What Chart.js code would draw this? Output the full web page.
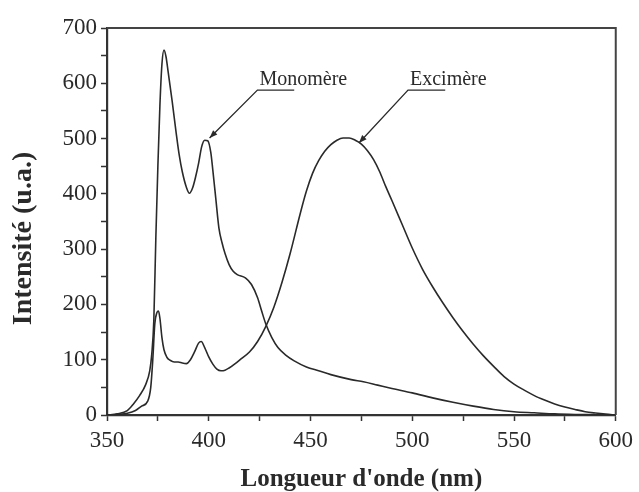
<!DOCTYPE html>
<html>
<head>
<meta charset="utf-8">
<script src="https://cdn.jsdelivr.net/npm/chart.js@4/dist/chart.umd.min.js"></script>
<style>
  html, body { margin: 0; padding: 0; background: #fff; }
  #wrap { width: 639px; height: 492px; position: relative; }
</style>
</head>
<body>
<div id="wrap"><canvas id="c"></canvas></div>
<script>
// ---- data ----
const wavelengthA = [350,355,360,363,366,369,371,372,373,374,375,376,377,378,379,380,382,384,385.5,387,389,390.5,392,393.5,395,396.5,398,399.5,401,402,403.5,405,406.5,408,410,412,414,418,421,424,426,428,431,434,438,442,448,454,460,470,476,483,490,500,510,520,530,540,550,560,570,580,590,600];
const intensityA  = [0,2,8,20,35,55,80,110,170,320,450,560,635,660,648,622,568,510,470,440,412,401,410,430,455,485,497,496,475,443,390,338,312,292,272,260,254,248,236,212,188,165,140,122,108,98,87,80,73,64,60,54,48,40,31,23,16,10,6,4,2,1,0.5,0];

const wavelengthB = [350,355,360,364,367,370,371.5,372.5,373.5,374.5,375.3,376,377,378,379.5,381,383,385,387,389,391,393,395,396.3,398,400,402,404,406,408,410,413,416,420,424,428,432,436,440,445,448,451,454,457,460,463,466,469,472,475,478,481,484,487,490,495,500,505,510,515,520,525,530,535,540,545,550,555,560,565,570,575,580,585,590,595,600];
const intensityB  = [0,1,3,8,16,25,50,100,165,185,188,175,140,118,104,99,96,96,94,93,100,114,130,133,122,105,92,83,80,81,85,93,102,114,133,160,195,240,292,365,405,437,460,477,489,497,501,501,497,490,478,462,440,413,388,345,302,264,232,203,176,151,128,107,88,70,56,45,35,27,20,14.5,10,6,3.5,1.5,0];

const xTickValues = [350,400,450,500,550,600];
const yTickValues = [0,100,200,300,400,500,600,700];

const annotationLabels = ['Monomère','Excimère'];
const annotationTextAt = [[424.9,596.7],[498.9,596.7]];
const annotationUnderlineEnd = [442,516.2];
const annotationArrowTip = [[400.4,501],[473.8,492]];

// ---- chart ----
const ink = '#2a2a2a';
const serif = "'Liberation Serif', 'Times New Roman', serif";

const pairs = (xs, ys) => xs.map((x, i) => ({x, y: ys[i]}));

const decorPlugin = {
  id: 'decor',
  afterDraw(chart) {
    const {ctx, chartArea: a, scales: {x, y}} = chart;
    ctx.save();
    // frame top and right
    ctx.strokeStyle = '#444';
    ctx.lineWidth = 2;
    ctx.beginPath();
    ctx.moveTo(a.left, a.top);
    ctx.lineTo(a.right, a.top);
    ctx.lineTo(a.right, a.bottom);
    ctx.stroke();

    // y title
    ctx.fillStyle = ink;
    ctx.font = "bold 28px " + serif;
    ctx.textAlign = 'center';
    ctx.textBaseline = 'middle';
    ctx.translate(24, (a.top + a.bottom) / 2 + 17);
    ctx.rotate(-Math.PI / 2);
    ctx.fillText('Intensité (u.a.)', 0, 0);
    ctx.restore();

    // annotations
    ctx.save();
    ctx.fillStyle = ink;
    ctx.strokeStyle = ink;
    ctx.font = "20px " + serif;
    ctx.textAlign = 'left';
    ctx.textBaseline = 'alphabetic';
    annotationLabels.forEach((label, i) => {
      const tx = x.getPixelForValue(annotationTextAt[i][0]);
      const ty = y.getPixelForValue(annotationTextAt[i][1]);
      ctx.fillText(label, tx, ty);
      const uy = ty + 5;
      const ux2 = x.getPixelForValue(annotationUnderlineEnd[i]);
      const px = x.getPixelForValue(annotationArrowTip[i][0]);
      const py = y.getPixelForValue(annotationArrowTip[i][1]);
      ctx.lineWidth = 1.3;
      ctx.beginPath();
      ctx.moveTo(ux2, uy);
      ctx.lineTo(tx - 2, uy);
      ctx.lineTo(px, py);
      ctx.stroke();
      // arrow head
      const ang = Math.atan2(py - uy, px - (tx - 2));
      const L = 8, W = 3;
      ctx.beginPath();
      ctx.moveTo(px, py);
      ctx.lineTo(px - L * Math.cos(ang) + W * Math.sin(ang), py - L * Math.sin(ang) - W * Math.cos(ang));
      ctx.lineTo(px - L * Math.cos(ang) - W * Math.sin(ang), py - L * Math.sin(ang) + W * Math.cos(ang));
      ctx.closePath();
      ctx.fill();
    });
    ctx.restore();
  }
};

new Chart(document.getElementById('c'), {
  type: 'line',
  data: {
    datasets: [
      { label: 'A', data: pairs(wavelengthA, intensityA), borderColor: ink, borderWidth: 1.6, pointRadius: 0, cubicInterpolationMode: 'monotone', fill: false },
      { label: 'B', data: pairs(wavelengthB, intensityB), borderColor: ink, borderWidth: 1.6, pointRadius: 0, cubicInterpolationMode: 'monotone', fill: false }
    ]
  },
  options: {
    responsive: true,
    maintainAspectRatio: false,
    animation: false,
    layout: { padding: { top: 28, right: 21, bottom: 0, left: 0 } },
    plugins: { legend: { display: false }, tooltip: { enabled: false } },
    scales: {
      x: {
        type: 'linear',
        min: 350, max: 600,
        afterFit: s => { s.height = 77; },
        ticks: {
          stepSize: 25, autoSkip: false, maxRotation: 0, padding: 6, maxTicksLimit: 20,
          color: ink, font: { family: serif, size: 23 },
          callback: v => xTickValues.includes(v) ? String(v) : ''
        },
        grid: { drawOnChartArea: false, drawTicks: true, tickLength: 6, tickColor: '#333', tickWidth: 1.5 },
        border: { display: true, color: '#333', width: 2.2 },
        title: { display: true, text: "Longueur d'onde (nm)", color: ink, font: { family: serif, size: 25, weight: 'bold', lineHeight: 1 }, padding: { top: 0, bottom: 0 } }
      },
      y: {
        min: 0, max: 700,
        afterFit: s => { s.width = 107; },
        ticks: {
          stepSize: 50, autoSkip: false, padding: 4, maxTicksLimit: 20,
          color: ink, font: { family: serif, size: 23 },
          callback: v => yTickValues.includes(v) ? String(v) : ''
        },
        grid: { drawOnChartArea: false, drawTicks: true, tickLength: 6, tickColor: '#333', tickWidth: 1.5 },
        border: { display: true, color: '#333', width: 2.2 },
        title: { display: false }
      }
    }
  },
  plugins: [decorPlugin]
});
</script>
</body>
</html>
